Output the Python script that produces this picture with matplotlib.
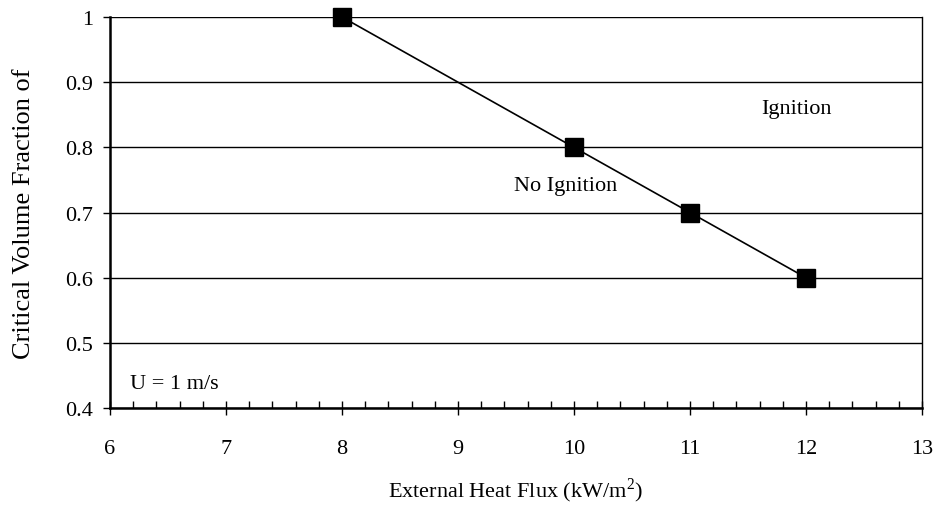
import matplotlib.pyplot as plt
from matplotlib.ticker import MultipleLocator

plt.rcParams['font.family'] = ['Liberation Serif', 'DejaVu Serif']
plt.rcParams['mathtext.fontset'] = 'custom'
plt.rcParams['mathtext.rm'] = 'Liberation Serif'

heat_flux = [8, 10, 11, 12]
critical_fraction = [1.0, 0.8, 0.7, 0.6]

fig = plt.figure(figsize=(9.36, 5.06), dpi=100)
ax = fig.add_axes([0.1175, 0.1917, 0.8675, 0.7727])

ax.plot(heat_flux, critical_fraction, color='black', linewidth=1.2,
        marker='s', markersize=12.5, markerfacecolor='black',
        markeredgecolor='black', zorder=3, clip_on=False)

ax.set_xlim(6, 13)
ax.set_ylim(0.4, 1.0)
ax.set_xticks(range(6, 14))
ax.xaxis.set_minor_locator(MultipleLocator(0.2))
ax.set_yticks([0.4, 0.5, 0.6, 0.7, 0.8, 0.9, 1.0])
ax.set_yticklabels(['0.4', '0.5', '0.6', '0.7', '0.8', '0.9', '1'])

ax.grid(axis='y', color='black', linewidth=1)
ax.set_axisbelow(True)

ax.spines['top'].set_visible(False)
ax.spines['bottom'].set_linewidth(1.8)
ax.spines['left'].set_linewidth(1.8)
ax.spines['right'].set_linewidth(1)

ax.tick_params(axis='x', which='major', direction='inout', length=10, width=1,
               labelsize=16, pad=17)
ax.tick_params(axis='x', which='minor', direction='in', length=5, width=1)
ax.tick_params(axis='y', direction='out', length=5, width=1, labelsize=16, pad=7)

ax.set_xlabel('External Heat Flux (kW/m$^\\mathregular{2}$)', fontsize=16, labelpad=13)
ax.set_ylabel('Critical Volume Fraction of', fontsize=19, labelpad=22)

ax.text(11.92, 0.859, 'Ignition', fontsize=16, ha='center', va='center')
ax.text(9.93, 0.741, 'No Ignition', fontsize=16, ha='center', va='center')
ax.text(6.17, 0.437, 'U = 1 m/s', fontsize=16, ha='left', va='center')

fig.savefig('out.png', dpi=100)
